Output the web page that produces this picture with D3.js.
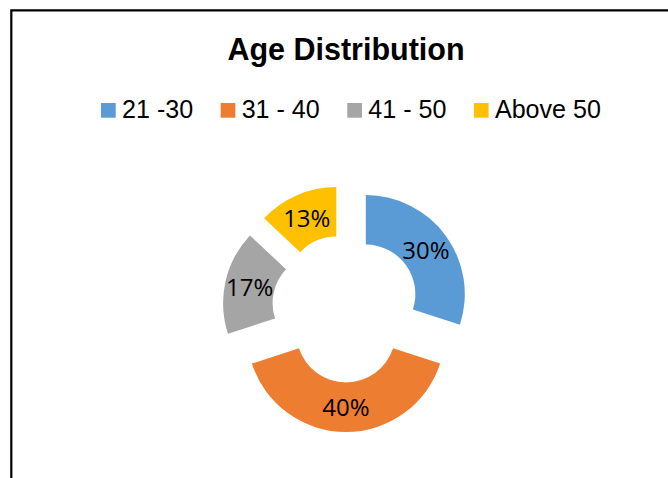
<!DOCTYPE html>
<html>
<head>
<meta charset="utf-8">
<title>Age Distribution</title>
<script src="https://cdn.jsdelivr.net/npm/d3@7"></script>
<style>
  html, body { margin: 0; padding: 0; background: #fff; }
  #chart { width: 668px; height: 478px; }
</style>
</head>
<body>
<div id="chart"></div>
<script>
(function () {
  "use strict";

  // chart data
  var categories = ["21 -30", "31 - 40", "41 - 50", "Above 50"];
  var values = [30, 40, 17, 13];
  var colors = ["#5B9BD5", "#ED7D31", "#A5A5A5", "#FFC000"];
  var title = "Age Distribution";

  var WIDTH = 668;
  var HEIGHT = 478;
  var CX = 346;
  var CY = 308.5;
  var OUTER = 99;
  var INNER = 49.5;
  var EXPLODE = 24.5;

  function drawChart() {
    var container = document.getElementById("chart");
    container.textContent = "";

    var svg = d3.select(container)
      .append("svg")
      .attr("width", WIDTH)
      .attr("height", HEIGHT)
      .attr("viewBox", [0, 0, WIDTH, HEIGHT]);

    svg.append("rect")
      .attr("width", WIDTH)
      .attr("height", HEIGHT)
      .attr("fill", "#fff");

    // chart area border (cropped at right and bottom)
    svg.append("path")
      .attr("d", "M11.3," + HEIGHT + " V10.3 H" + WIDTH)
      .attr("fill", "none")
      .attr("stroke", "#000")
      .attr("stroke-width", 2.2);

    svg.append("text")
      .attr("x", CX)
      .attr("y", 60)
      .attr("text-anchor", "middle")
      .attr("font-family", "'Liberation Sans', Arial, sans-serif")
      .attr("font-weight", "bold")
      .attr("font-size", 30.5)
      .attr("fill", "#000")
      .text(title);

    // legend, a little condensed like the original font
    var legend = svg.append("g").attr("class", "legend");
    var lx = 101;
    categories.forEach(function (name, i) {
      legend.append("rect")
        .attr("x", lx)
        .attr("y", 103)
        .attr("width", 14.7)
        .attr("height", 14.7)
        .attr("fill", colors[i]);
      var t = legend.append("text")
        .attr("x", lx + 21)
        .attr("y", 118.3)
        .attr("font-family", "'Liberation Sans', Arial, sans-serif")
        .attr("font-size", 26)
        .attr("fill", "#000")
        .text(name);
      var w = t.node().getComputedTextLength() * 0.965;
      t.attr("textLength", w).attr("lengthAdjust", "spacingAndGlyphs");
      lx += 21 + w + 27.5;
    });

    var pie = d3.pie().sort(null).value(function (d) { return d; });
    var arcs = pie(values);
    var arcGen = d3.arc().innerRadius(INNER).outerRadius(OUTER);
    var labelArc = d3.arc().innerRadius((INNER + OUTER) / 2).outerRadius((INNER + OUTER) / 2);

    function offset(d) {
      var mid = (d.startAngle + d.endAngle) / 2;
      return [Math.sin(mid) * EXPLODE, -Math.cos(mid) * EXPLODE];
    }

    var g = svg.append("g").attr("transform", "translate(" + CX + "," + CY + ")");

    var slices = g.selectAll("g.slice")
      .data(arcs)
      .join("g")
      .attr("class", "slice")
      .attr("transform", function (d) {
        var o = offset(d);
        return "translate(" + o[0] + "," + o[1] + ")";
      });

    slices.append("path")
      .attr("d", arcGen)
      .attr("fill", function (d, i) { return colors[i]; });

    var total = d3.sum(values);
    slices.append("text")
      .attr("transform", function (d) {
        var c = labelArc.centroid(d);
        return "translate(" + c[0] + "," + c[1] + ")";
      })
      .attr("text-anchor", "middle")
      .attr("dy", "0.36em")
      .attr("font-family", "'Open Sans', 'Liberation Sans', sans-serif")
      .attr("font-size", 24)
      .attr("fill", "#000")
      .text(function (d) { return Math.round(d.value / total * 100) + "%"; });
  }

  if (document.readyState === "loading") {
    document.addEventListener("DOMContentLoaded", drawChart);
  } else {
    drawChart();
  }
})();
</script>
</body>
</html>
